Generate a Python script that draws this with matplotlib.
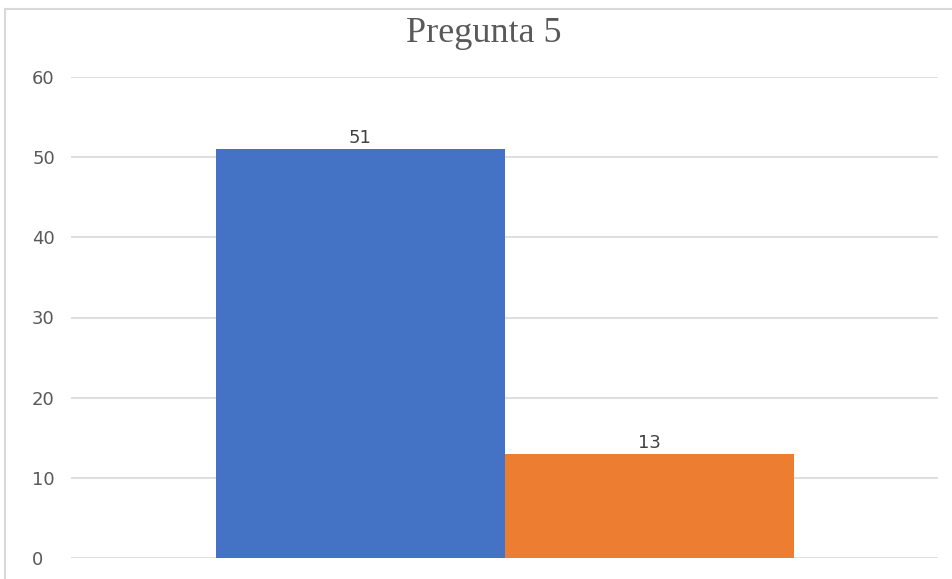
import matplotlib
matplotlib.use("Agg")
import matplotlib.pyplot as plt
from matplotlib.lines import Line2D

title = "Pregunta 5"
series_names = ["Serie 1", "Serie 2"]
values = [51, 13]
colors = ["#4472C4", "#ED7D31"]
yticks = [0, 10, 20, 30, 40, 50, 60]

W, H = 952, 579
fig = plt.figure(figsize=(W / 100, H / 100), dpi=100)
ax = fig.add_axes([71 / W, 1 - 558 / H, 867 / W, (558 - 77) / H])

bw = 1 / 3
offsets = [-bw / 2, bw / 2]
for name, v, c, off in zip(series_names, values, colors, offsets):
    bars = ax.bar([off], [v], width=bw, color=c, label=name, zorder=3)
    ax.bar_label(bars, labels=[str(v)], padding=1.5, color="#404040",
                 fontsize=13, family="DejaVu Sans")

ax.set_xlim(-0.5, 0.5)
ax.set_ylim(0, 60)
ax.set_yticks(yticks)
ax.set_yticklabels([str(t) for t in yticks])
ax.set_xticks([])
ax.grid(axis="y", color="#D9D9D9", linewidth=1.2, zorder=0)
for s in ax.spines.values():
    s.set_visible(False)
ax.tick_params(axis="y", length=0, pad=28, labelsize=13, labelcolor="#595959")
for lab in ax.get_yticklabels():
    lab.set_horizontalalignment("left")

fig.text(484 / W, 1 - 42 / H, title, ha="center", va="baseline",
         fontsize=26, family="Liberation Serif", color="#595959")

# chart border (partially visible)
fig.add_artist(Line2D([5 / W, 1], [1 - 8.5 / H, 1 - 8.5 / H], color="#D9D9D9", lw=1.5))
fig.add_artist(Line2D([5 / W, 5 / W], [0, 1 - 8.5 / H], color="#D9D9D9", lw=1.5))

fig.savefig("out.png", dpi=100)
